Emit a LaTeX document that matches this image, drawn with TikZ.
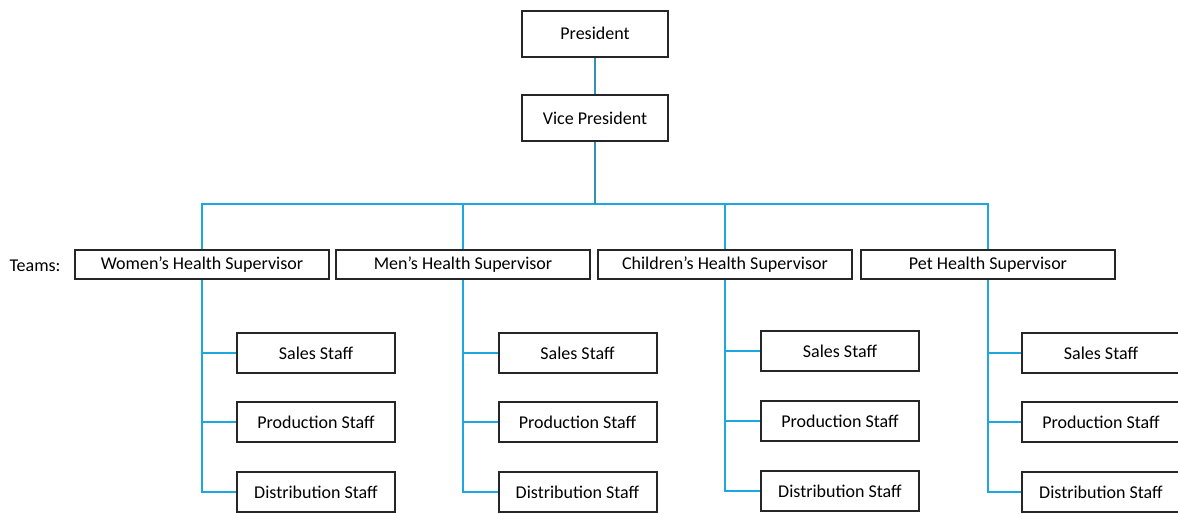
\documentclass[tikz,border=0pt]{standalone}
\usepackage{fontspec}
\setmainfont{Carlito}
\definecolor{linkblue}{HTML}{1DA6DF}
\definecolor{trunkblue}{HTML}{3591B4}
\tikzset{
  box/.style={draw=black!85, line width=2pt, fill=white, inner sep=0pt,
    font=\fontsize{18}{21}\selectfont},
  topbox/.style={box, minimum width=146pt, minimum height=46pt},
  supbox/.style={box, minimum width=254pt, minimum height=29pt},
  staffbox/.style={box, minimum width=158pt, minimum height=40pt},
  link/.style={draw=linkblue, line width=1.8pt},
  trunk/.style={draw=trunkblue, line width=1.8pt}
}

\begin{document}
\begin{tikzpicture}[x=1pt, y=-1pt]
    \useasboundingbox (0,0) rectangle (1178,514);
    \clip (0,0) rectangle (1178,514);
    \fill[white] (0,0) rectangle (1178,514);

    % top of the chart
    \node[topbox] (pres) at (595,33.5) {President};
    \node[topbox] (vp) at (595,118) {Vice President};
    \coordinate (bus) at (595,204);

    % team supervisors
    \node[anchor=west, font=\fontsize{18}{21}\selectfont] (teams) at (6,266) {Teams:};
    \node[supbox] (women) at (202,264.5) {Women’s Health Supervisor};
    \node[supbox] (men) at (463,264.5) {Men’s Health Supervisor};
    \node[supbox] (children) at (725,264.5) {Children’s Health Supervisor};
    \node[supbox] (pet) at (988,264.5) {Pet Health Supervisor};

    % staff under each supervisor
    \node[staffbox] (wsales) at (316,353) {Sales Staff};
    \node[staffbox] (wprod) at (316,422) {Production Staff};
    \node[staffbox] (wdist) at (316,492) {Distribution Staff};

    \node[staffbox] (msales) at (577.5,353) {Sales Staff};
    \node[staffbox] (mprod) at (577.5,422) {Production Staff};
    \node[staffbox] (mdist) at (577.5,492) {Distribution Staff};

    \node[staffbox] (csales) at (840,351) {Sales Staff};
    \node[staffbox] (cprod) at (840,421) {Production Staff};
    \node[staffbox] (cdist) at (840,491) {Distribution Staff};

    \node[staffbox] (psales) at (1101,353) {Sales Staff};
    \node[staffbox] (pprod) at (1101,422) {Production Staff};
    \node[staffbox] (pdist) at (1101,492) {Distribution Staff};

    % connectors
    \draw[trunk] (pres) -- (vp);
    \draw[link] (bus) -| (women.north);
    \draw[link] (bus) -| (men.north);
    \draw[link] (bus) -| (children.north);
    \draw[link] (bus) -| (pet.north);
    \draw[trunk] (vp) -- (bus);

    \draw[link] (women.south) |- (wsales.west);
    \draw[link] (women.south) |- (wprod.west);
    \draw[link] (women.south) |- (wdist.west);
    \draw[link] (men.south) |- (msales.west);
    \draw[link] (men.south) |- (mprod.west);
    \draw[link] (men.south) |- (mdist.west);
    \draw[link] (children.south) |- (csales.west);
    \draw[link] (children.south) |- (cprod.west);
    \draw[link] (children.south) |- (cdist.west);
    \draw[link] (pet.south) |- (psales.west);
    \draw[link] (pet.south) |- (pprod.west);
    \draw[link] (pet.south) |- (pdist.west);
  \end{tikzpicture}
\end{document}
